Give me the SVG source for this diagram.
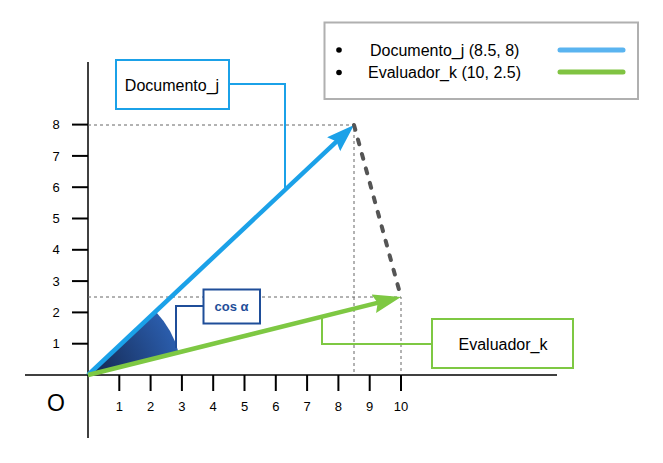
<svg xmlns="http://www.w3.org/2000/svg" width="663" height="463" viewBox="0 0 663 463">
<style>
text{font-family:"Liberation Sans",Arial,sans-serif;fill:#000}
.tick{stroke:#000;stroke-width:2}
.axis{stroke:#000;stroke-width:1.5}
.guide{stroke:#666;stroke-width:1;stroke-dasharray:3,3;fill:none}
.num{font-family:"Liberation Sans",Arial,sans-serif;font-size:13px;text-anchor:middle}
.lbl{font-size:16px;text-anchor:middle}
</style>
<defs>
<marker id="ahBlue" markerUnits="userSpaceOnUse" markerWidth="30" markerHeight="20" refX="13" refY="9.5" orient="auto">
<path d="M0,0 L28,9.5 L0,19 L4,9.5 Z" fill="#1ba1e8"/>
</marker>
<marker id="ahGreen" markerUnits="userSpaceOnUse" markerWidth="30" markerHeight="20" refX="13" refY="9.5" orient="auto">
<path d="M0,0 L28,9.5 L0,19 L4,9.5 Z" fill="#7ec843"/>
</marker>
<radialGradient id="wedgeGrad" gradientUnits="userSpaceOnUse" cx="88" cy="375" r="95">
<stop offset="0" stop-color="#13254c"/>
<stop offset="1" stop-color="#2b5eae"/>
</radialGradient>
</defs>
<rect width="663" height="463" fill="#fff"/>

<g id="axes">
<line class="axis" x1="25" y1="375" x2="557" y2="375"/>
<line class="axis" x1="88" y1="62" x2="88" y2="438"/>
<g id="xticks">
<line class="tick" x1="119.3" y1="375" x2="119.3" y2="391"/>
<line class="tick" x1="150.6" y1="375" x2="150.6" y2="391"/>
<line class="tick" x1="181.9" y1="375" x2="181.9" y2="391"/>
<line class="tick" x1="213.2" y1="375" x2="213.2" y2="391"/>
<line class="tick" x1="244.5" y1="375" x2="244.5" y2="391"/>
<line class="tick" x1="275.8" y1="375" x2="275.8" y2="391"/>
<line class="tick" x1="307.1" y1="375" x2="307.1" y2="391"/>
<line class="tick" x1="338.4" y1="375" x2="338.4" y2="391"/>
<line class="tick" x1="369.7" y1="375" x2="369.7" y2="391"/>
<line class="tick" x1="401" y1="375" x2="401" y2="391"/>
<text class="num" x="119.3" y="411">1</text>
<text class="num" x="150.6" y="411">2</text>
<text class="num" x="181.9" y="411">3</text>
<text class="num" x="213.2" y="411">4</text>
<text class="num" x="244.5" y="411">5</text>
<text class="num" x="275.8" y="411">6</text>
<text class="num" x="307.1" y="411">7</text>
<text class="num" x="338.4" y="411">8</text>
<text class="num" x="369.7" y="411">9</text>
<text class="num" x="401" y="411">10</text>
</g>
<g id="yticks">
<line class="tick" x1="72" y1="343.7" x2="88" y2="343.7"/>
<line class="tick" x1="72" y1="312.4" x2="88" y2="312.4"/>
<line class="tick" x1="72" y1="281.1" x2="88" y2="281.1"/>
<line class="tick" x1="72" y1="249.8" x2="88" y2="249.8"/>
<line class="tick" x1="72" y1="218.5" x2="88" y2="218.5"/>
<line class="tick" x1="72" y1="187.2" x2="88" y2="187.2"/>
<line class="tick" x1="72" y1="155.9" x2="88" y2="155.9"/>
<line class="tick" x1="72" y1="124.6" x2="88" y2="124.6"/>
<text class="num" x="56" y="348.3">1</text>
<text class="num" x="56" y="317">2</text>
<text class="num" x="56" y="285.7">3</text>
<text class="num" x="56" y="254.4">4</text>
<text class="num" x="56" y="223.1">5</text>
<text class="num" x="56" y="191.8">6</text>
<text class="num" x="56" y="160.5">7</text>
<text class="num" x="56" y="129.2">8</text>
</g>
<text x="56" y="411" font-size="23" text-anchor="middle">O</text>
</g>

<g id="guides">
<polyline class="guide" points="88,125 354,125 354,375"/>
<polyline class="guide" points="88,297 401,297 401,375"/>
</g>

<g id="angle">
<path d="M88,375 L156.5,312.5 A94,94 0 0 1 178.5,352 Z" fill="url(#wedgeGrad)"/>
</g>

<g id="connectors">
<line x1="88" y1="375" x2="343.1" y2="135.3" stroke="#1ba1e8" stroke-width="4.5" marker-end="url(#ahBlue)"/>
<line x1="88" y1="375" x2="386.4" y2="300.6" stroke="#7ec843" stroke-width="4.5" marker-end="url(#ahGreen)"/>
<line x1="354" y1="125" x2="401" y2="297" stroke="#555" stroke-width="4" stroke-linecap="round" stroke-dasharray="5,10"/>
<polyline points="229,84 285,84 285,188" fill="none" stroke="#1ba1e8" stroke-width="2"/>
<polyline points="432,344 322,344 322,318" fill="none" stroke="#7ec843" stroke-width="2"/>
<polyline points="203,306 176,306 176,348" fill="none" stroke="#1f4e99" stroke-width="2"/>
</g>

<g id="node-documento">
<rect x="116" y="60" width="113" height="49" fill="#fff" stroke="#1ba1e8" stroke-width="2"/>
<text class="lbl" x="172" y="90.5">Documento_j</text>
</g>

<g id="node-evaluador">
<rect x="432" y="319" width="141" height="49" fill="#fff" stroke="#7ec843" stroke-width="2"/>
<text class="lbl" x="503" y="349.5">Evaluador_k</text>
</g>

<g id="node-cos">
<rect x="203.5" y="289.5" width="56.5" height="34" fill="#fff" stroke="#1f4e99" stroke-width="2"/>
<text x="231.5" y="311" font-size="13" font-weight="bold" text-anchor="middle" style="fill:#1f4e99">cos α</text>
</g>

<g id="legend">
<rect x="324.5" y="22.5" width="313.5" height="76.5" fill="#fff" stroke="#b0b0b0" stroke-width="2"/>
<circle cx="339" cy="50" r="2.8" fill="#000"/>
<circle cx="339" cy="72.5" r="2.8" fill="#000"/>
<text x="370" y="55.5" font-size="16">Documento_j (8.5, 8)</text>
<text x="368" y="78" font-size="16">Evaluador_k (10, 2.5)</text>
<line x1="560" y1="50" x2="623" y2="50" stroke="#5ab4f0" stroke-width="5" stroke-linecap="round"/>
<line x1="560" y1="72" x2="623" y2="72" stroke="#80c342" stroke-width="5" stroke-linecap="round"/>
</g>
</svg>
